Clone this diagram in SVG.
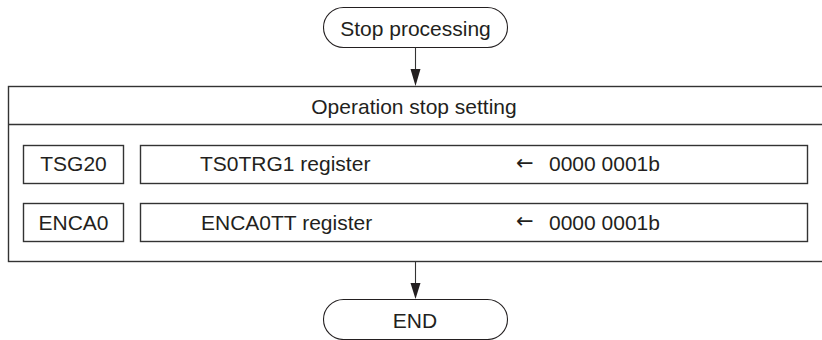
<svg xmlns="http://www.w3.org/2000/svg" width="822" height="340" viewBox="0 0 822 340">
<defs>
<style>
.t{font-family:"Liberation Sans",Arial,sans-serif;font-size:21px;fill:#231f20}
.m{text-anchor:middle}
.ar{font-family:"DejaVu Sans",sans-serif;font-size:21px}
.box{fill:#fff;stroke:#333;stroke-width:1.4}
.pill{fill:#fff;stroke:#231f20;stroke-width:1.1}
.ln{stroke:#333;stroke-width:1.1;fill:none}
.head{fill:#231f20}
</style>
</defs>
<rect width="822" height="340" fill="#fff"/>
<g id="start">
<rect class="pill" x="323.5" y="7.5" width="184" height="40" rx="20" ry="20"/>
<text class="t m" x="415.5" y="35.5">Stop processing</text>
</g>
<g id="operation">
<rect class="box" x="8.5" y="86.5" width="820" height="175"/>
<line class="ln" x1="8" y1="124.5" x2="822" y2="124.5" style="stroke-width:1.4"/>
<text class="t m" x="414" y="114">Operation stop setting</text>
</g>
<g id="tsg20">
<rect class="box" x="23.5" y="145.5" width="100" height="38"/>
<text class="t m" x="73.5" y="171">TSG20</text>
</g>
<g id="ts0trg1">
<rect class="box" x="140.5" y="145.5" width="667" height="38"/>
<text class="t" x="200" y="171">TS0TRG1 register</text>
<text class="t" y="171"><tspan class="ar" x="516" dy="-1.5">←</tspan><tspan x="549" dy="1.5">0000 0001b</tspan></text>
</g>
<g id="enca0">
<rect class="box" x="23.5" y="203.5" width="100" height="38"/>
<text class="t m" x="73.5" y="229.5">ENCA0</text>
</g>
<g id="enca0tt">
<rect class="box" x="140.5" y="203.5" width="667" height="38"/>
<text class="t" x="201" y="229.5">ENCA0TT register</text>
<text class="t" y="229.5"><tspan class="ar" x="516" dy="-1.5">←</tspan><tspan x="549" dy="1.5">0000 0001b</tspan></text>
</g>
<g id="end">
<rect class="pill" x="323.5" y="299.5" width="184" height="40" rx="20" ry="20"/>
<text class="t m" x="415" y="327.5">END</text>
</g>
<g id="connectors">
<path d="M415.5 47.5 V69" class="ln"/>
<path d="M410.5 69 L420.5 69 L415.5 86 Z" class="head"/>
<path d="M415.5 262 V283" class="ln"/>
<path d="M410.5 283 L420.5 283 L415.5 299 Z" class="head"/>
</g>
</svg>
